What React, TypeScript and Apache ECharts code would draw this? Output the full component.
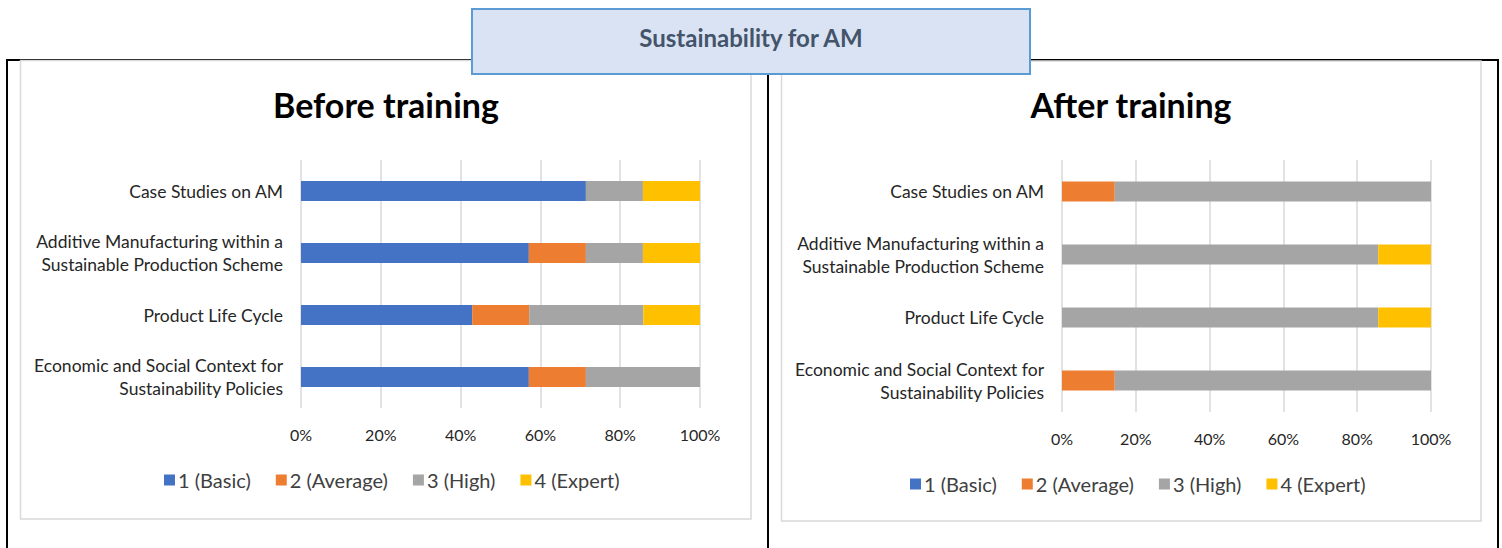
import React, { useEffect, useRef } from "react";
import * as echarts from "echarts";

const categories = [
  "Case Studies on AM",
  "Additive Manufacturing within a\nSustainable Production Scheme",
  "Product Life Cycle",
  "Economic and Social Context for\nSustainability Policies",
];
const levelNames = ["1 (Basic)", "2 (Average)", "3 (High)", "4 (Expert)"];
const levelColors = ["#4472c4", "#ed7d31", "#a5a5a5", "#ffc000"];

// Percent of respondents, per category (top to bottom)
const beforeBasic = [71.4, 57.1, 42.9, 57.1];
const beforeAverage = [0, 14.3, 14.3, 14.3];
const beforeHigh = [14.3, 14.3, 28.6, 28.6];
const beforeExpert = [14.3, 14.3, 14.2, 0];

const afterBasic = [0, 0, 0, 0];
const afterAverage = [14.3, 0, 0, 14.3];
const afterHigh = [85.7, 85.7, 85.7, 85.7];
const afterExpert = [0, 14.3, 14.3, 0];

const xTicks = [0, 20, 40, 60, 80, 100];

const FONT = "Lato, 'Open Sans', sans-serif";

export default function App() {
  const ref = useRef<HTMLDivElement>(null);

  useEffect(() => {
    if (!ref.current) return;
    const chart = echarts.init(ref.current, undefined, { renderer: "svg" });

    const before = [beforeBasic, beforeAverage, beforeHigh, beforeExpert];
    const after = [afterBasic, afterAverage, afterHigh, afterExpert];

    const xAxisCommon = (gridIndex: number) => ({
      type: "value" as const,
      gridIndex,
      min: xTicks[0],
      max: xTicks[xTicks.length - 1],
      interval: xTicks[1] - xTicks[0],
      axisLine: { show: false },
      axisTick: { show: false },
      splitLine: { show: true, lineStyle: { color: "#d9d9d9", width: 1.5 } },
      axisLabel: {
        formatter: "{value}%",
        fontSize: 16,
        color: "#262626",
        fontFamily: FONT,
        margin: 18,
      },
    });
    const yAxisCommon = (gridIndex: number) => ({
      type: "category" as const,
      gridIndex,
      inverse: true,
      data: categories,
      axisLine: { show: false },
      axisTick: { show: false },
      axisLabel: {
        fontSize: 17.5,
        color: "#262626",
        fontFamily: FONT,
        lineHeight: 23,
        margin: 18,
        align: "right" as const,
      },
    });

    const series: any[] = [];
    before.forEach((d, i) =>
      series.push({
        type: "bar",
        name: levelNames[i],
        stack: "before",
        xAxisIndex: 0,
        yAxisIndex: 0,
        barWidth: 20,
        data: d,
        itemStyle: { color: levelColors[i] },
      })
    );
    after.forEach((d, i) =>
      series.push({
        type: "bar",
        name: levelNames[i],
        stack: "after",
        xAxisIndex: 1,
        yAxisIndex: 1,
        barWidth: 20,
        data: d,
        itemStyle: { color: levelColors[i] },
      })
    );

    const legendCommon = {
      data: levelNames,
      itemWidth: 11,
      itemHeight: 11,
      itemGap: 25,
      icon: "rect",
      textStyle: { fontSize: 20, color: "#404040", fontFamily: FONT, padding: [0, 0, 0, -2] },
      selectedMode: false,
    };

    chart.setOption({
      animation: false,
      backgroundColor: "#ffffff",
      grid: [
        { left: 301, width: 399, top: 160, height: 248 },
        { left: 1062, width: 369, top: 160, height: 252 },
      ],
      xAxis: [xAxisCommon(0), xAxisCommon(1)],
      yAxis: [yAxisCommon(0), yAxisCommon(1)],
      legend: [
        { ...legendCommon, left: 159, top: 465 },
        { ...legendCommon, left: 905, top: 469 },
      ],
      series,
      graphic: [
        // outer black frame
        { type: "line", shape: { x1: 6, y1: 60, x2: 1499, y2: 60 }, style: { stroke: "#000", lineWidth: 2 }, z: 1 },
        { type: "line", shape: { x1: 7, y1: 59, x2: 7, y2: 548 }, style: { stroke: "#000", lineWidth: 2 }, z: 1 },
        { type: "line", shape: { x1: 768, y1: 60, x2: 768, y2: 548 }, style: { stroke: "#000", lineWidth: 2 }, z: 1 },
        { type: "line", shape: { x1: 1498, y1: 59, x2: 1498, y2: 548 }, style: { stroke: "#000", lineWidth: 2 }, z: 1 },
        // chart area frames
        { type: "rect", shape: { x: 20.5, y: 60.5, width: 730.5, height: 458.5 }, style: { fill: "none", stroke: "#d9d9d9", lineWidth: 1.5 }, z: 2 },
        { type: "rect", shape: { x: 781.5, y: 61, width: 699.5, height: 460 }, style: { fill: "none", stroke: "#d9d9d9", lineWidth: 1.5 }, z: 2 },
        // chart titles
        {
          type: "text",
          x: 386,
          y: 104,
          style: { text: "Before training", fontSize: 34, fontWeight: "bold", fill: "#000", fontFamily: FONT, textAlign: "center", textVerticalAlign: "middle" },
          z: 3,
        },
        {
          type: "text",
          x: 1131,
          y: 104,
          style: { text: "After training", fontSize: 34, fontWeight: "bold", fill: "#000", fontFamily: FONT, textAlign: "center", textVerticalAlign: "middle" },
          z: 3,
        },
        // main title box
        {
          type: "rect",
          shape: { x: 472, y: 9, width: 558, height: 65 },
          style: { fill: "#dae3f3", stroke: "#5b9bd5", lineWidth: 2 },
          z: 100,
        },
        {
          type: "text",
          x: 751,
          y: 37,
          style: { text: "Sustainability for AM", fontSize: 24, fontWeight: "bold", fill: "#44546a", fontFamily: FONT, textAlign: "center", textVerticalAlign: "middle" },
          z: 101,
        },
      ],
    });

    return () => chart.dispose();
  }, []);

  return (
    <div
      ref={ref}
      style={{ position: "fixed", left: 0, top: 0, width: 1502, height: 548, background: "#fff" }}
    />
  );
}
